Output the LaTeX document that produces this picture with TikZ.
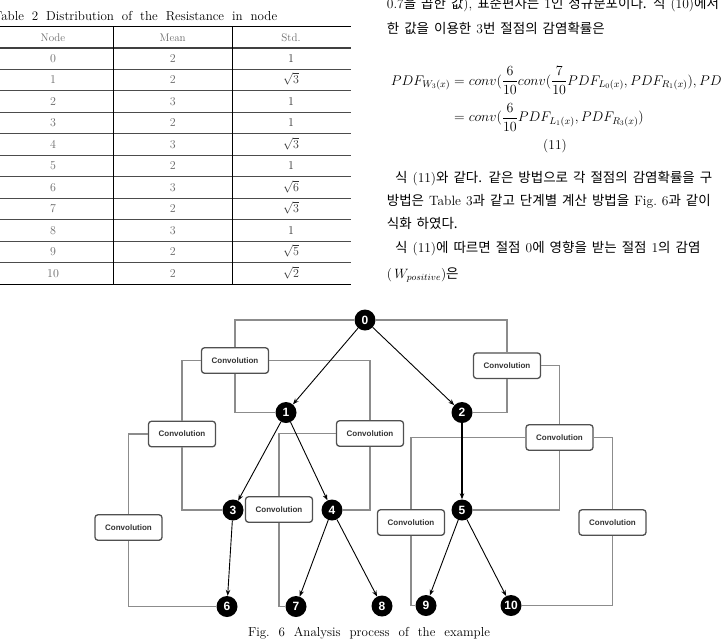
\RequirePackage{fix-cm}
\documentclass[tikz,border=0pt]{standalone}
\usepackage{amsmath,amssymb}
\usepackage{fontspec}
\usepackage{tikz}
\usetikzlibrary{arrows.meta,positioning,calc}
\newfontfamily\krfont{Noto Sans CJK KR}
\newfontfamily\boxfont{Liberation Sans}
\newcommand{\kor}[1]{{\krfont #1}}
\newcommand{\widesp}{\spaceskip=5pt plus 2pt minus 1pt\relax}
\definecolor{wiregray}{RGB}{140,140,140}
\definecolor{boxgray}{RGB}{80,80,80}
\definecolor{numgray}{RGB}{105,105,105}

\begin{document}
\begin{tikzpicture}[x=1pt,y=-1pt,
    every node/.style={inner sep=0pt},
    tnum/.style={anchor=base,text=numgray,font=\fontsize{12}{12}\selectfont},
    bodytext/.style={anchor=base west,font=\fontsize{13.5}{13.5}\selectfont\widesp},
    eqtext/.style={anchor=base west,font=\fontsize{14}{14}\selectfont},
    pnode/.style={circle,fill=black,minimum size=21pt,text=white,font=\boxfont\bfseries\fontsize{12}{12}\selectfont},
    convbox/.style={draw=boxgray,line width=1.3pt,rounded corners=3pt,fill=white,minimum width=67pt,minimum height=25.5pt,text=black!80,font=\boxfont\bfseries\fontsize{8}{8}\selectfont},
    wire/.style={draw=wiregray,line width=1.3pt},
    flow/.style={draw=black,line width=0.9pt,-{Stealth[length=6pt,width=4.5pt]}}]
  \useasboundingbox (0,0) rectangle (721,641);

  % table
  \node[anchor=base west,font=\fontsize{13}{13}\selectfont] (tabtitle) at (-7,20)
    {\makebox[284pt][s]{Table 2 Distribution of the Resistance in node}};
  \draw[line width=0.8pt] (0,26) -- (351,26);
  \draw[line width=2pt,black!75] (0,47.7) -- (351,47.7);
  \foreach \r in {1,...,10}
    \draw[line width=0.7pt,black!70] (0,{47.7+21.5*\r}) -- (351,{47.7+21.5*\r});
  \draw[line width=0.9pt] (0,284.2) -- (351,284.2);
  \draw[line width=0.8pt] (113.3,26) -- (113.3,284.2);
  \draw[line width=0.8pt] (232.3,26) -- (232.3,284.2);
  \node[tnum,font=\fontsize{11}{11}\selectfont] (hnode) at (53,41) {Node};
  \node[tnum,font=\fontsize{11}{11}\selectfont] (hmean) at (172.7,41) {Mean};
  \node[tnum,font=\fontsize{11}{11}\selectfont] (hstd) at (291,41) {Std.};
  \foreach \m/\s [count=\i from 0] in {2/1,2/$\sqrt{3}$,3/1,2/1,3/$\sqrt{3}$,2/1,
      3/$\sqrt{6}$,2/$\sqrt{3}$,3/1,2/$\sqrt{5}$,2/$\sqrt{2}$} {
    \node[tnum] (rn\i) at (53,{62+21.5*\i}) {\i};
    \node[tnum] (rm\i) at (172.7,{62+21.5*\i}) {\m};
    \node[tnum,text=black!80] (rs\i) at (291,{62+21.5*\i}) {\s};
  }

  % text column
  \node[bodytext] (ln1) at (386.7,8) {0.7\kor{을 곱한 값}), \kor{표준편차는} 1\kor{인 정규분포이다.} \kor{식} (10)\kor{에서}};
  \node[bodytext] (ln2) at (386.7,33) {\kor{한 값을 이용한} 3\kor{번 절점의 감염확률은}};
  \node[eqtext] (eq1) at (390.7,85)
    {$\displaystyle PDF_{W_3(x)} = conv(\frac{6}{10}conv(\frac{7}{10}PDF_{L_0(x)},PDF_{R_1(x)}),PDF_{R_3(x)})$};
  \node[eqtext] (eq2) at (390.7,121.5)
    {$\displaystyle \phantom{PDF_{W_3(x)}} = conv(\frac{6}{10}PDF_{L_1(x)},PDF_{R_3(x)})$};
  \node[anchor=base,font=\fontsize{13.5}{13.5}\selectfont] (eqno) at (555,149) {(11)};
  \node[bodytext] (ln3) at (395,182) {\kor{식} (11)\kor{와 같다.} \kor{같은 방법으로 각 절점의 감염확률을 구}};
  \node[bodytext] (ln4) at (386.7,205) {\kor{방법은} Table 3\kor{과 같고 단계별 계산 방법을} Fig.\ 6\kor{과 같이}};
  \node[bodytext] (ln5) at (386.7,228.5) {\kor{식화 하였다.}};
  \node[bodytext] (ln6) at (395,252) {\kor{식} (11)\kor{에 따르면 절점} 0\kor{에 영향을 받는 절점} 1\kor{의 감염}};
  \node[bodytext] (ln7) at (386.7,278) {(\,$W_{positive}$)\kor{은}};

  % diagram
  \node[pnode] (n0) at (365,320) {0};
  \node[pnode] (n1) at (286,412.5) {1};
  \node[pnode] (n2) at (462,412.5) {2};
  \node[pnode] (n3) at (233,510) {3};
  \node[pnode] (n4) at (332,510) {4};
  \node[pnode] (n5) at (462,510) {5};
  \node[pnode] (n6) at (227,606.5) {6};
  \node[pnode] (n7) at (296,606.5) {7};
  \node[pnode] (n8) at (382,606) {8};
  \node[pnode] (n9) at (426,605.5) {9};
  \node[pnode] (n10) at (511,605.5) {10};

  \node[convbox] (cv1) at (235,360.5) {Convolution};
  \node[convbox] (cv2) at (182,434) {Convolution};
  \node[convbox] (cv3) at (370,433.5) {Convolution};
  \node[convbox] (cv4) at (507,365.7) {Convolution};
  \node[convbox] (cv5) at (559.5,437.5) {Convolution};
  \node[convbox] (cv6) at (128.5,527.5) {Convolution};
  \node[convbox] (cv7) at (279,509.5) {Convolution};
  \node[convbox] (cv8) at (411,522.5) {Convolution};
  \node[convbox] (cv9) at (612.5,522.5) {Convolution};

  \draw[wire] (n0) -| (cv1);
  \draw[wire] (n0) -| (cv4);
  \draw[wire] (cv1) -| (cv2);
  \draw[wire] (cv1) -| (cv3);
  \draw[wire] (cv1) |- (n1);
  \draw[wire] (cv2) -| (cv6);
  \draw[wire] (cv2) |- (n3);
  \draw[wire] (cv3) -| (cv7);
  \draw[wire] (cv3) |- (n4);
  \draw[wire] (cv6) |- (n6);
  \draw[wire] (cv7) |- (n7);
  \draw[wire] (cv4) |- (n2);
  \draw[wire] (cv4) -| (cv5);
  \draw[wire] (cv5) -| (cv8);
  \draw[wire] (cv5) -| (cv9);
  \draw[wire] (cv5) |- (n5);
  \draw[wire] (cv8) |- (n9);
  \draw[wire] (cv9) |- (n10);

  \draw[flow] (n0) -- (n1);
  \draw[flow] (n0) -- (n2);
  \draw[flow] (n1) -- (n3);
  \draw[flow] (n1) -- (n4);
  \draw[flow,line width=1.6pt] (n2) -- (n5);
  \draw[flow] (n3) -- (n6);
  \draw[flow] (n4) -- (n7);
  \draw[flow] (n4) -- (n8);
  \draw[flow] (n5) -- (n9);
  \draw[flow] (n5) -- (n10);

  \node[anchor=base,font=\fontsize{13}{13}\selectfont] (figcap) at (369,636.5)
    {\makebox[242pt][s]{Fig.\ 6 Analysis process of the example}};
\end{tikzpicture}
\end{document}
